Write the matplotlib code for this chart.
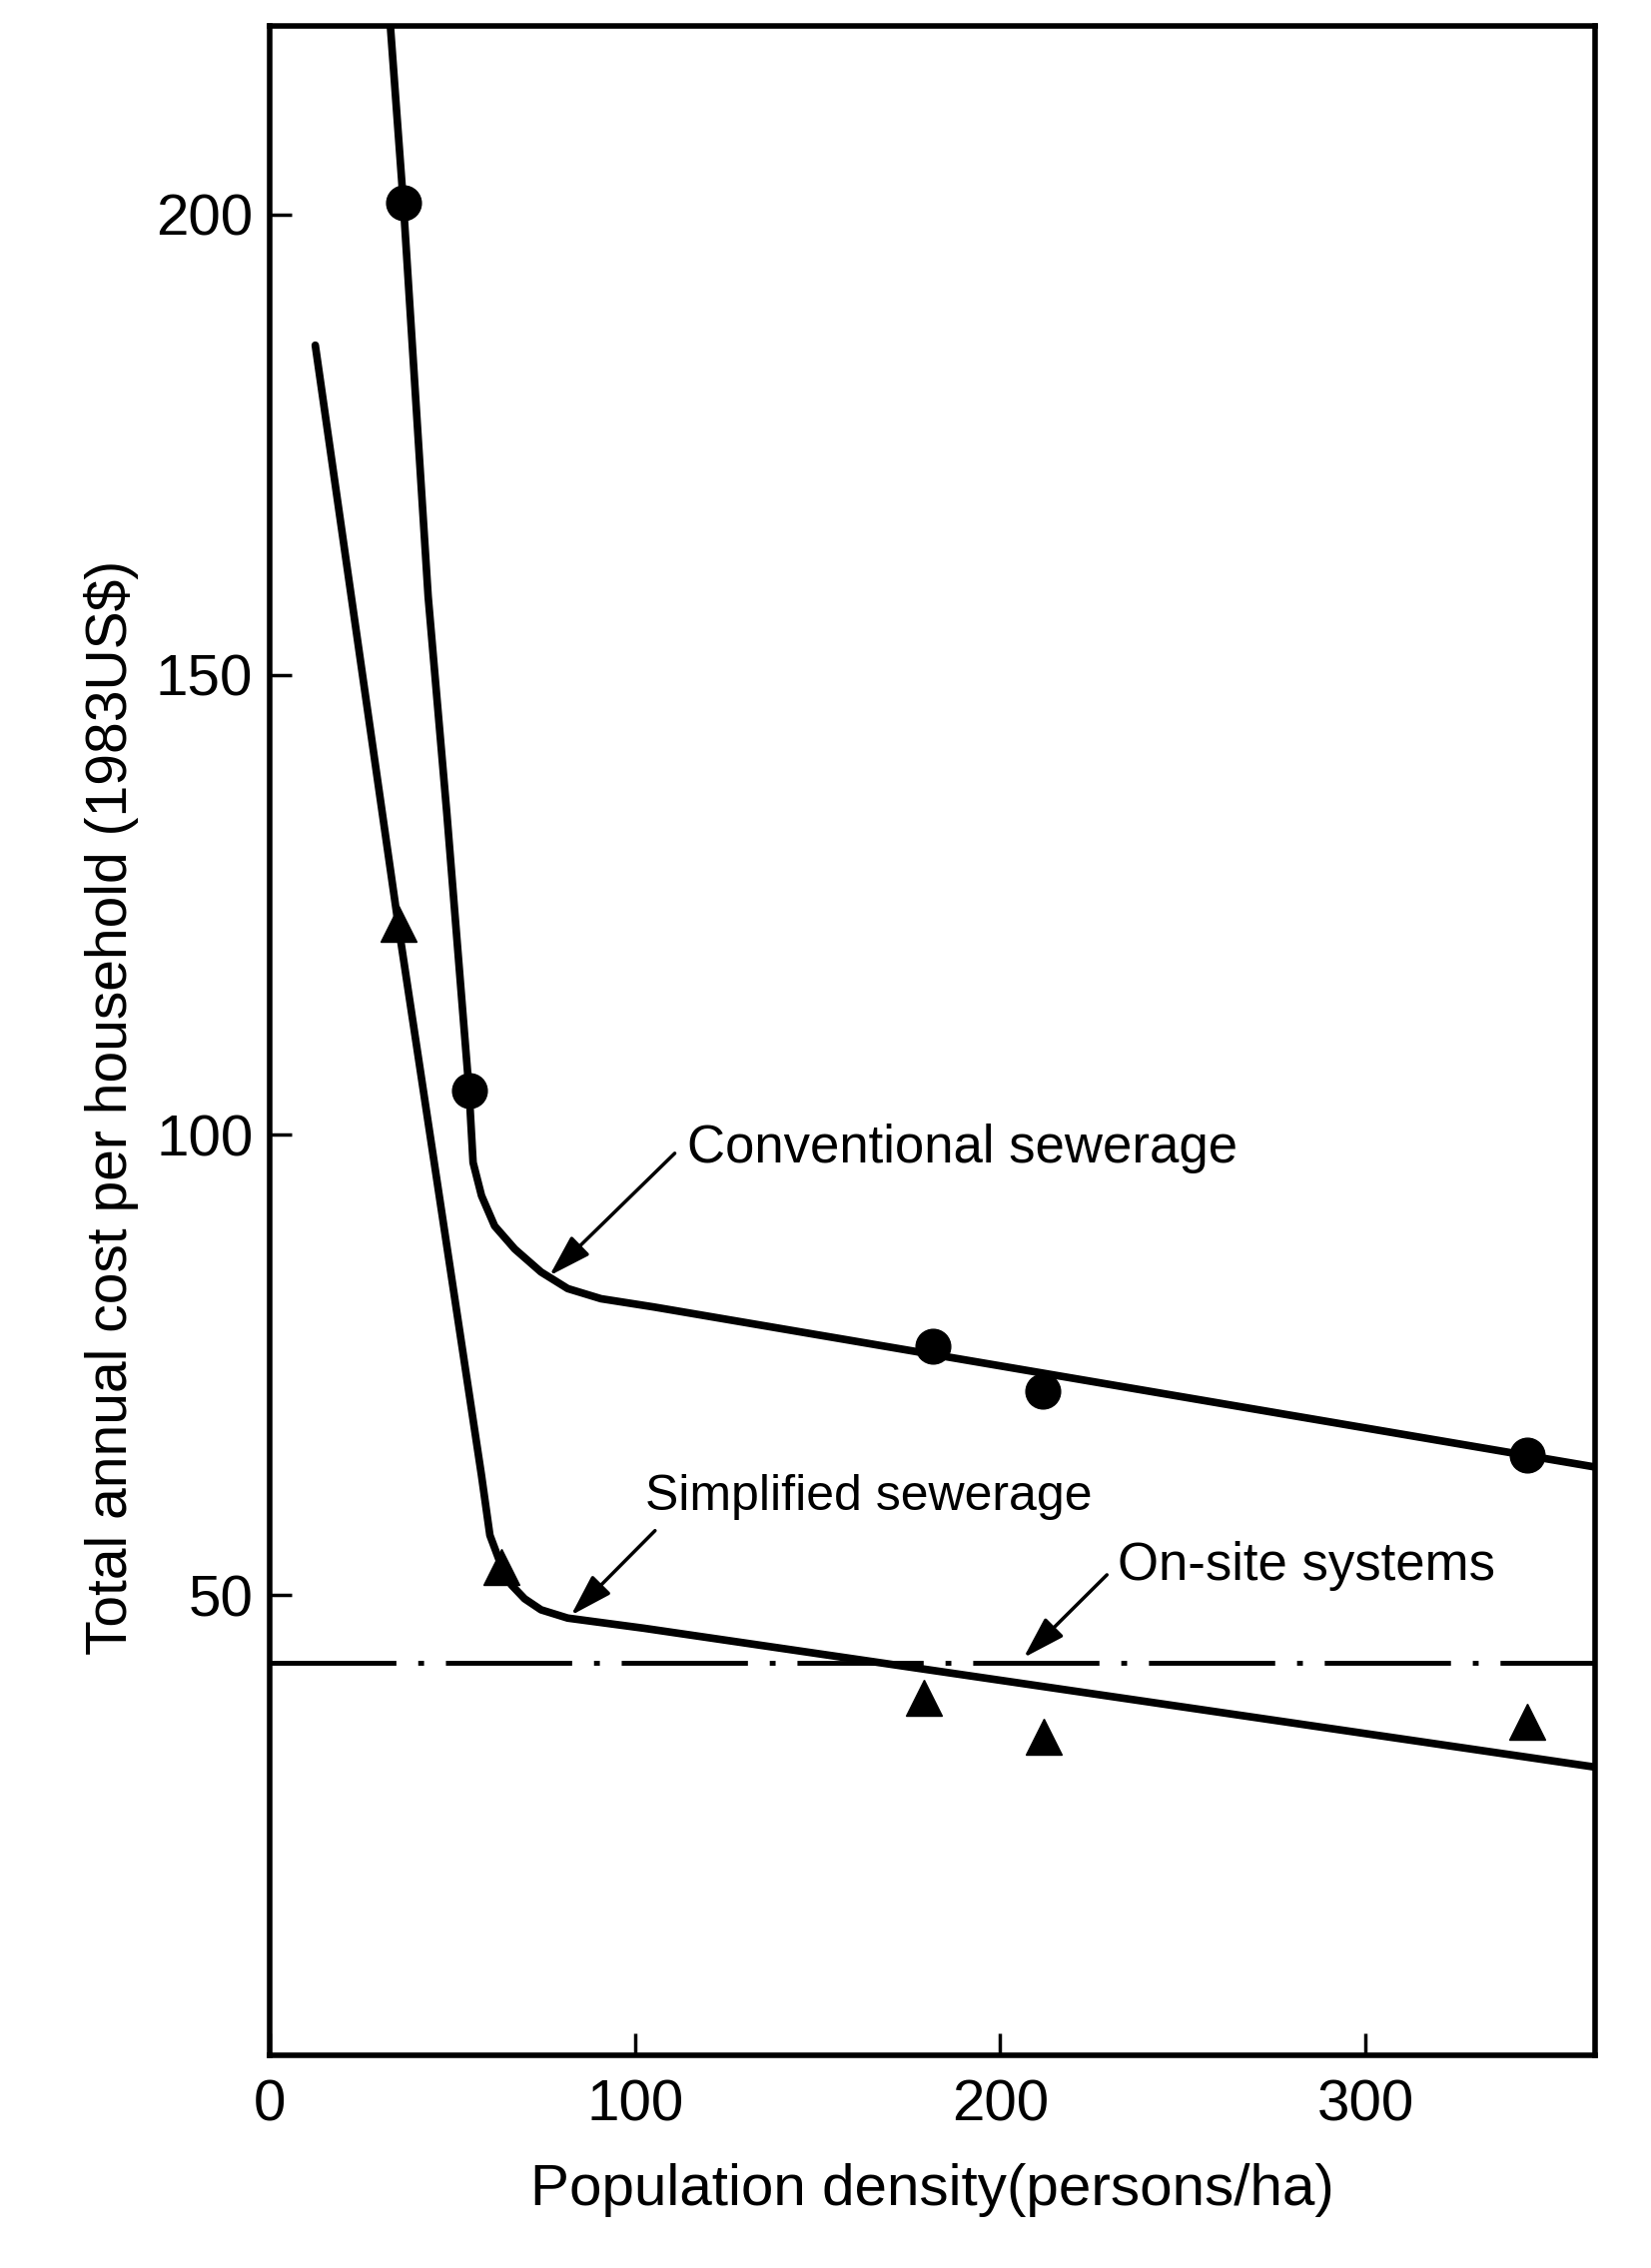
import matplotlib
matplotlib.use("Agg")
import matplotlib.pyplot as plt

plt.rcParams['font.family'] = ['Liberation Sans', 'DejaVu Sans']

# curves (persons/ha, 1983 US$)
conv_line_x = [33.0, 36.6, 43.4, 48.5, 54.6, 55.7, 58.0, 61.6, 67.1, 74.3, 81.6, 90.7, 105.2, 363.0]
conv_line_y = [220.8, 201.3, 158.5, 135.0, 104.8, 97.0, 93.4, 90.1, 87.6, 85.1, 83.3, 82.2, 81.3, 63.9]

simp_line_x = [12.5, 35.2, 58.0, 60.3, 63.5, 66.2, 69.8, 74.3, 81.6, 102.4, 363.0]
simp_line_y = [185.8, 122.9, 63.0, 56.5, 53.1, 51.1, 49.6, 48.4, 47.5, 46.4, 31.3]

onsite_cost = 42.6

# observed points
conv_pts_x = [36.6, 54.6, 181.6, 211.6, 344.1]
conv_pts_y = [201.3, 104.8, 77.0, 72.2, 65.2]
simp_pts_x = [35.2, 63.5, 179.2, 211.9, 344.1]
simp_pts_y = [122.9, 53.1, 38.8, 34.6, 36.2]

xticks = [0, 100, 200, 300]
yticks = [50, 100, 150, 200]

fig = plt.figure(figsize=(16.53, 22.71), dpi=100)
ax = fig.add_axes([0.1633, 0.0938, 0.8028, 0.8948])

ax.plot(conv_line_x, conv_line_y, color='black', lw=5.5, solid_capstyle='round',
        solid_joinstyle='round')
ax.plot(simp_line_x, simp_line_y, color='black', lw=5.5, solid_capstyle='round',
        solid_joinstyle='round')
ax.axhline(onsite_cost, color='black', lw=3.5, linestyle=(0, (26, 4.5, 1.2, 4.5)))

ax.plot(conv_pts_x, conv_pts_y, 'o', color='black', ms=25)
ax.plot(simp_pts_x, simp_pts_y, '^', color='black', ms=26)

arrow = dict(arrowstyle='-|>,head_length=1.3,head_width=0.4', color='black',
             lw=2.5, mutation_scale=20, shrinkA=0, shrinkB=0)
ax.annotate('', xy=(76.6, 84.7), xytext=(110.9, 98.0), arrowprops=arrow)
ax.annotate('', xy=(82.5, 47.8), xytext=(105.5, 57.0), arrowprops=arrow)
ax.annotate('', xy=(206.4, 43.2), xytext=(229.2, 52.2), arrowprops=arrow)

ax.text(114.3, 97.0, 'Conventional sewerage', fontsize=38, va='baseline', ha='left')
ax.text(102.8, 59.2, 'Simplified sewerage', fontsize=36, va='baseline', ha='left')
ax.text(232.0, 51.6, 'On-site systems', fontsize=38, va='baseline', ha='left')

ax.set_xlim(1.5, 362.8)
ax.set_ylim(0, 220.5)
ax.set_xticks(xticks)
ax.set_yticks(yticks)
ax.tick_params(direction='in', length=16, width=2.5, labelsize=42)
ax.tick_params(axis='x', pad=17)
ax.tick_params(axis='y', pad=12)
for s in ax.spines.values():
    s.set_linewidth(4)

ax.set_xlabel('Population density(persons/ha)', fontsize=42, labelpad=22)
ax.set_ylabel('Total annual cost per household (1983US$)', fontsize=41)
ax.yaxis.set_label_coords(-0.099, 0.467)

fig.savefig('out.png', dpi=100)
